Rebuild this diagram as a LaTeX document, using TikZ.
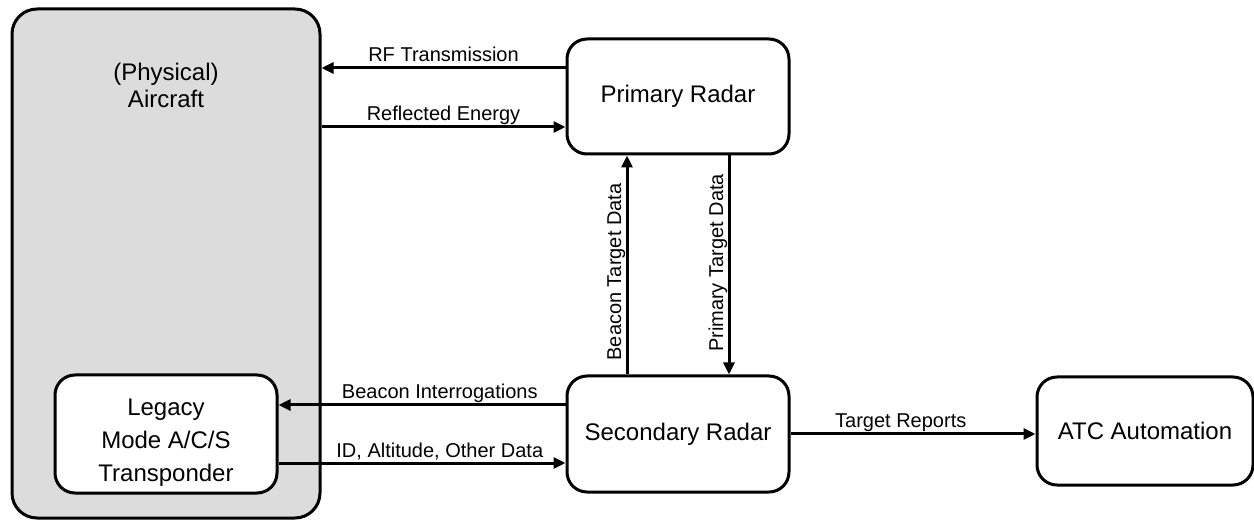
\documentclass[tikz,border=0pt]{standalone}
\usepackage{fontspec}
\setmainfont{Liberation Sans}
\usetikzlibrary{arrows.meta}
\definecolor{airgrey}{RGB}{220,220,220}
\begin{document}
\begin{tikzpicture}[x=1pt,y=-1pt,
  box/.style={draw, line width=3pt, rounded corners=20pt, fill=white,
    inner sep=0pt, align=center, font=\fontsize{24}{27}\selectfont},
  boxtext/.style={inner sep=0pt, align=center},
  arr/.style={line width=3pt, -{Triangle[length=12pt,width=11pt]}},
  lbl/.style={font=\fontsize{20}{24}\selectfont, inner sep=0pt, anchor=base}]
\useasboundingbox (0,0) rectangle (1254,521);

% aircraft container and its title
\node[box, fill=airgrey, rounded corners=25pt, minimum width=308pt,
      minimum height=509pt] (air) at (166,263.5) {};
\node[boxtext, font=\fontsize{24}{27}\selectfont] (airtxt) at (166,85)
  {(Physical)\\Aircraft};

% transponder inside the aircraft
\node[box, minimum width=222pt, minimum height=118pt] (tx) at (166,434) {};
\node[boxtext, font=\fontsize{24}{33}\selectfont] (txtxt) at (166,443)
  {Legacy\\Mode A/C/S\\Transponder};

% ground systems
\node[box, minimum width=222pt, minimum height=115pt] (pr) at (678,96.5) {Primary Radar};
\node[box, minimum width=222pt, minimum height=116pt] (sr) at (678,434) {Secondary Radar};
\node[box, minimum width=216pt, minimum height=108pt] (atc) at (1145,431) {ATC Automation};

% connector rows and columns
\coordinate (yrf) at (0,68);
\coordinate (yre) at (0,127);
\coordinate (ybi) at (0,405);
\coordinate (yid) at (0,463);
\coordinate (xbt) at (627,0);
\coordinate (xpt) at (729,0);

\draw[arr] (pr.west |- yrf) -- node[lbl, yshift=6pt] (lrf) {RF Transmission} (air.east |- yrf);
\draw[arr] (air.east |- yre) -- node[lbl, yshift=6pt] (lre) {Reflected Energy} (pr.west |- yre);
\draw[arr] (sr.west |- ybi) -- node[lbl, pos=0.438, yshift=6pt] (lbi) {Beacon Interrogations} (tx.east |- ybi);
\draw[arr] (tx.east |- yid) -- node[lbl, pos=0.562, yshift=6pt] (lid) {ID, Altitude, Other Data} (sr.west |- yid);
\draw[arr] (sr.east) -- node[lbl, pos=0.45, yshift=6pt] (ltr) {Target Reports} (sr.east -| atc.west);

\draw[arr] (sr.north -| xbt) -- (pr.south -| xbt);
\draw[arr] (pr.south -| xpt) -- (sr.north -| xpt);
\node[lbl, rotate=90] (lbt) at (621,272) {Beacon Target Data};
\node[lbl, rotate=90] (lpt) at (723,263) {Primary Target Data};
\end{tikzpicture}
\end{document}
